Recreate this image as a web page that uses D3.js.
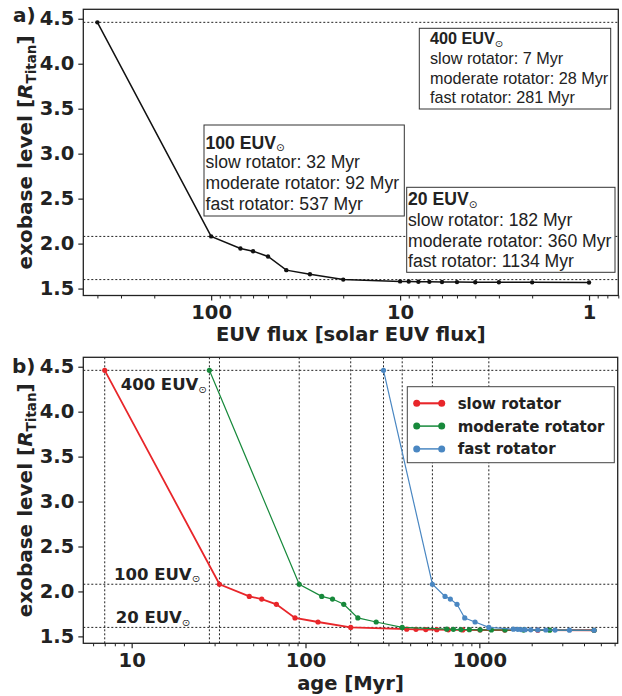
<!DOCTYPE html>
<html>
<head>
<meta charset="utf-8">
<script src="https://cdn.jsdelivr.net/npm/d3@7"></script>
<style>
  body { margin: 0; background: #fff; }
  svg { display: block; }
</style>
</head>
<body>
<svg id="chart" width="622" height="696"></svg>
<script>
// EUV flux levels (in units of present solar EUV flux) and the resulting exobase level
const fluxLevels   = [400, 100, 70, 60, 50, 40, 30, 20, 10, 9, 8, 7, 6, 5, 4, 3, 2, 1];
const exobaseLevel = [4.46, 2.08, 1.945, 1.915, 1.857, 1.705, 1.66, 1.60, 1.58, 1.578,
                      1.576, 1.575, 1.573, 1.572, 1.571, 1.57, 1.569, 1.568];

// Stellar age (Myr) at which each flux level is reached, per rotator track
const slowAge     = [7, 32, 47.5, 56, 68, 87, 118, 182, 382, 432, 492, 569, 663, 802, 1009, 1400, 2170, 4570];
const moderateAge = [28, 92, 124, 143, 166, 200, 255, 360, 649, 709, 783, 876, 1010, 1173, 1405, 1796, 2538, 4570];
const fastAge     = [281, 537, 635, 681, 744, 824, 945, 1134, 1570, 1664, 1740, 1834, 1976, 2168, 2411, 2727, 3299, 4570];

const rotatorNames  = ["slow rotator", "moderate rotator", "fast rotator"];
const rotatorAges   = [slowAge, moderateAge, fastAge];
const rotatorColors = ["#e8262a", "#17893b", "#4a87c2"];
const rotatorWidths = [1.8, 1.2, 1.2];

// Reference flux levels that are highlighted with guide lines
const markedFlux = [400, 100, 20];

// Tick labels
const yTickValues    = [1.5, 2.0, 2.5, 3.0, 3.5, 4.0, 4.5];
const fluxTickValues = [100, 10, 1];
const ageTickValues  = [10, 100, 1000];

const svg = d3.select("#chart");
const BOLD = "'DejaVu Sans', sans-serif";
const ARIAL = "'Liberation Sans', Arial, sans-serif";
const SUN = "\u2299";

const yDomain = [1.423, 4.605];

// ---------- shared helpers ----------
function drawYAxis(g, y, left) {
  const ax = g.append("g").attr("transform", `translate(${left},0)`)
    .call(d3.axisLeft(y).tickValues(yTickValues).tickFormat(d3.format(".1f")).tickSize(5).tickPadding(4));
  ax.select(".domain").remove();
  ax.selectAll(".tick line").attr("stroke", "#222").attr("stroke-width", 1.2);
  ax.selectAll(".tick text").attr("font-family", BOLD).attr("font-weight", "bold")
    .attr("font-size", 19.5).attr("fill", "#222");
}

function drawXAxis(g, x, bottom, majors) {
  const major = g.append("g").attr("transform", `translate(0,${bottom})`)
    .call(d3.axisBottom(x).tickValues(majors).tickFormat(d3.format("d")).tickSize(5).tickPadding(5));
  major.select(".domain").remove();
  major.selectAll(".tick line").attr("stroke", "#222").attr("stroke-width", 1.2);
  major.selectAll(".tick text").attr("font-family", BOLD).attr("font-weight", "bold")
    .attr("font-size", 19.5).attr("fill", "#222");
  const minorVals = x.ticks().filter(v => !majors.some(m => Math.abs(m - v) < 1e-9));
  const minor = g.append("g").attr("transform", `translate(0,${bottom})`)
    .call(d3.axisBottom(x).tickValues(minorVals).tickFormat("").tickSize(3));
  minor.select(".domain").remove();
  minor.selectAll(".tick line").attr("stroke", "#222").attr("stroke-width", 1);
}

function frame(g, x0, y0, x1, y1) {
  g.append("rect").attr("x", x0).attr("y", y0).attr("width", x1 - x0).attr("height", y1 - y0)
    .attr("fill", "none").attr("stroke", "#222").attr("stroke-width", 1.3);
}

function yLabel(g, cx, cy) {
  const t = g.append("text")
    .attr("transform", `translate(${cx},${cy}) rotate(-90)`)
    .attr("text-anchor", "middle")
    .attr("font-family", BOLD).attr("font-weight", "bold").attr("font-size", 20).attr("fill", "#222");
  t.append("tspan").text("exobase level [");
  t.append("tspan").attr("font-style", "italic").text("R");
  t.append("tspan").attr("font-size", 13.5).attr("dy", 4).text("Titan");
  t.append("tspan").attr("dy", -4).text("]");
}

function euvLabel(sel, value, size) {
  sel.append("tspan").text(value + " EUV");
  sel.append("tspan").attr("font-size", size * 0.6).attr("font-weight", "normal")
    .attr("font-family", BOLD).attr("dy", size * 0.16).text(SUN);
}

const dash = "2,2";
const ageAt = (ages, f) => ages[fluxLevels.indexOf(f)];
const levelAt = f => exobaseLevel[fluxLevels.indexOf(f)];

// ================= panel a) exobase level vs EUV flux =================
const A = { left: 83.3, right: 618.3, top: 9.3, bottom: 295.5 };
const xA = d3.scaleLog().domain([475, 0.7]).range([A.left, A.right]);
const yA = d3.scaleLinear().domain(yDomain).range([A.bottom, A.top]);
const gA = svg.append("g");

// guide lines at the marked flux levels
gA.selectAll("line.guide").data(markedFlux).join("line")
  .attr("x1", A.left).attr("x2", A.right)
  .attr("y1", d => yA(levelAt(d))).attr("y2", d => yA(levelAt(d)))
  .attr("stroke", "#222").attr("stroke-width", 1).attr("stroke-dasharray", dash);

const ptsA = fluxLevels.map((f, i) => [f, exobaseLevel[i]]);
gA.append("path").datum(ptsA)
  .attr("d", d3.line().x(d => xA(d[0])).y(d => yA(d[1])))
  .attr("fill", "none").attr("stroke", "#111").attr("stroke-width", 1.5);
gA.selectAll("circle").data(ptsA).join("circle")
  .attr("cx", d => xA(d[0])).attr("cy", d => yA(d[1])).attr("r", 2.2).attr("fill", "#111");

// annotation boxes with the ages at which each marked flux level is reached
const boxLayout = {
  400: { rect: [419.3, 28.3, 191.4, 80.7], tx: 430, head: 44.3, lines: [64, 83.7, 102.7], size: 16.2 },
  100: { rect: [204, 125, 200.3, 91], tx: 205.5, head: 148.5, lines: [168.3, 189.3, 210], size: 17.6 },
  20:  { rect: [406.7, 187.3, 208.3, 85], tx: 408, head: 205, lines: [226, 246.7, 266.7], size: 17.6 }
};
markedFlux.forEach(f => {
  const L = boxLayout[f];
  gA.append("rect").attr("x", L.rect[0]).attr("y", L.rect[1]).attr("width", L.rect[2]).attr("height", L.rect[3])
    .attr("fill", "#fff").attr("stroke", "#333").attr("stroke-width", 1);
  const h = gA.append("text").attr("x", L.tx).attr("y", L.head)
    .attr("font-family", ARIAL).attr("font-weight", "bold").attr("font-size", L.size).attr("fill", "#222");
  euvLabel(h, f, L.size);
  rotatorNames.forEach((name, i) => {
    gA.append("text").attr("x", L.tx).attr("y", L.lines[i])
      .attr("font-family", ARIAL).attr("font-size", L.size).attr("fill", "#222")
      .text(`${name}: ${ageAt(rotatorAges[i], f)} Myr`);
  });
});

frame(gA, A.left, A.top, A.right, A.bottom);
drawYAxis(gA, yA, A.left);
drawXAxis(gA, xA, A.bottom, fluxTickValues);
yLabel(gA, 32, (A.top + A.bottom) / 2);
gA.append("text").attr("x", (A.left + A.right) / 2).attr("y", 340.5)
  .attr("text-anchor", "middle").attr("font-family", BOLD).attr("font-weight", "bold")
  .attr("font-size", 19.5).attr("fill", "#222").text("EUV flux [solar EUV flux]");
gA.append("text").attr("x", 13).attr("y", 22).attr("font-family", BOLD).attr("font-weight", "bold")
  .attr("font-size", 20).attr("fill", "#222").text("a)");

// ================= panel b) exobase level vs stellar age =================
const B = { left: 83.3, right: 617.7, top: 357.3, bottom: 643.3 };
const xB = d3.scaleLog().domain([5.27, 6250]).range([B.left, B.right]);
const yB = d3.scaleLinear().domain(yDomain).range([B.bottom, B.top]);
const gB = svg.append("g");

// horizontal guides at marked flux levels
gB.selectAll("line.h").data(markedFlux).join("line")
  .attr("x1", B.left).attr("x2", B.right)
  .attr("y1", d => yB(levelAt(d))).attr("y2", d => yB(levelAt(d)))
  .attr("stroke", "#222").attr("stroke-width", 1).attr("stroke-dasharray", dash);
// vertical guides at the ages where each rotator reaches the marked levels
const vAges = rotatorAges.flatMap(ages => markedFlux.map(f => ageAt(ages, f)));
gB.selectAll("line.v").data(vAges).join("line")
  .attr("x1", d => xB(d)).attr("x2", d => xB(d))
  .attr("y1", B.top).attr("y2", B.bottom)
  .attr("stroke", "#222").attr("stroke-width", 1).attr("stroke-dasharray", dash);

// level labels
const levelLabelPos = { 400: [120.7, 19.7], 100: [114, -4.5], 20: [115.7, -4.5] };
markedFlux.forEach(f => {
  const p = levelLabelPos[f];
  const t = gB.append("text").attr("x", p[0]).attr("y", yB(levelAt(f)) + p[1])
    .attr("font-family", BOLD).attr("font-weight", "bold").attr("font-size", 16.5).attr("fill", "#222");
  euvLabel(t, f, 16.5);
});

// rotator tracks
rotatorAges.forEach((ages, i) => {
  const pts = ages.map((a, k) => [a, exobaseLevel[k]]);
  gB.append("path").datum(pts)
    .attr("d", d3.line().x(d => xB(d[0])).y(d => yB(d[1])))
    .attr("fill", "none").attr("stroke", rotatorColors[i]).attr("stroke-width", rotatorWidths[i]);
  gB.append("g").selectAll("circle").data(pts).join("circle")
    .attr("cx", d => xB(d[0])).attr("cy", d => yB(d[1])).attr("r", 2.6).attr("fill", rotatorColors[i]);
});

// legend
const lg = gB.append("g");
lg.append("rect").attr("x", 407.3).attr("y", 386.7).attr("width", 207).attr("height", 76)
  .attr("fill", "#fff").attr("stroke", "#444").attr("stroke-width", 1);
rotatorNames.forEach((name, i) => {
  const ly = 403.3 + i * 22.8;
  lg.append("line").attr("x1", 416.7).attr("x2", 441.7).attr("y1", ly).attr("y2", ly)
    .attr("stroke", rotatorColors[i]).attr("stroke-width", rotatorWidths[i] + 0.3);
  [416.7, 441.7].forEach(cx => lg.append("circle").attr("cx", cx).attr("cy", ly).attr("r", 3.5)
    .attr("fill", rotatorColors[i]));
  lg.append("text").attr("x", 457.7).attr("y", ly + 5.5)
    .attr("font-family", BOLD).attr("font-weight", "bold").attr("font-size", 15).attr("fill", "#222")
    .text(name);
});

frame(gB, B.left, B.top, B.right, B.bottom);
drawYAxis(gB, yB, B.left);
drawXAxis(gB, xB, B.bottom, ageTickValues);
yLabel(gB, 32, (B.top + B.bottom) / 2);
gB.append("text").attr("x", (B.left + B.right) / 2).attr("y", 690)
  .attr("text-anchor", "middle").attr("font-family", BOLD).attr("font-weight", "bold")
  .attr("font-size", 19.5).attr("fill", "#222").text("age [Myr]");
gB.append("text").attr("x", 12).attr("y", 373).attr("font-family", BOLD).attr("font-weight", "bold")
  .attr("font-size", 20).attr("fill", "#222").text("b)");
</script>
</body>
</html>
